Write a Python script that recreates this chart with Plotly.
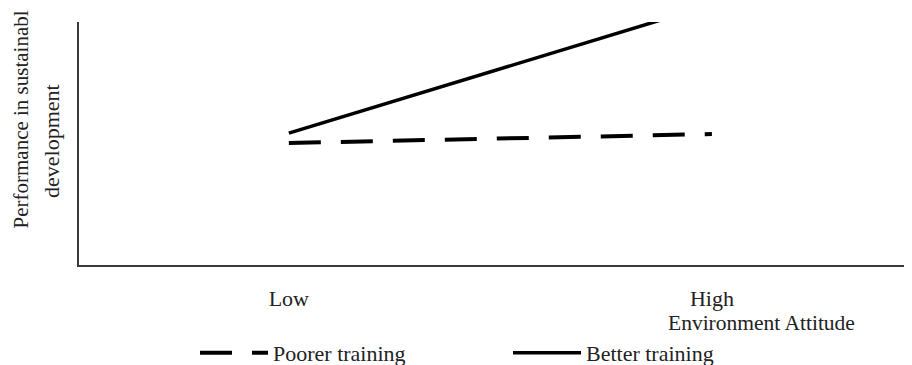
import plotly.graph_objects as go

categories = ["Low", "High"]
x_pos = [1, 2]
poorer_training = [5.02, 5.39]
better_training = [5.43, 10.72]
series_names = ["Poorer training", "Better training"]
y_title_lines = ["Performance in sustainabl", "development"]
x_title = "Environment Attitude"

FONT = "Liberation Serif"
FS = 22

fig = go.Figure()
fig.add_trace(go.Scatter(
    x=x_pos, y=poorer_training, mode="lines", name=series_names[0],
    line=dict(color="black", width=4, dash="32px,20px"),
))
fig.add_trace(go.Scatter(
    x=x_pos, y=better_training, mode="lines", name=series_names[1],
    line=dict(color="black", width=3.5),
))

fig.update_layout(
    width=904, height=357,
    margin=dict(l=71, r=0, t=14, b=100, autoexpand=False),
    paper_bgcolor="white", plot_bgcolor="white",
    font=dict(family=FONT, size=FS, color="#222"),
    showlegend=True,
    legend=dict(
        orientation="h", x=(195 - 79) / 833, xanchor="left",
        y=(265 - 353) / 243, yanchor="middle",
        itemwidth=68, entrywidth=230, entrywidthmode="pixels",
        font=dict(family=FONT, size=FS, color="#222"),
        bgcolor="rgba(0,0,0,0)", traceorder="normal",
    ),
    hovermode=False,
)
fig.update_xaxes(
    range=[0.504, 2.473], tickvals=x_pos, ticktext=categories,
    showgrid=False, zeroline=False, showline=True, linecolor="#3a3a3a", linewidth=2,
    ticks="", ticklabelstandoff=13,
    tickfont=dict(family=FONT, size=FS, color="#222"),
)
fig.update_yaxes(
    range=[0, 10], showticklabels=False, ticks="",
    showgrid=False, zeroline=False, showline=True, linecolor="#3a3a3a", linewidth=2,
)

fig.add_annotation(
    text=y_title_lines[0], xref="paper", yref="paper", x=0, y=(265 - 120) / 243,
    xshift=-58.5, textangle=-90, showarrow=False, xanchor="center", yanchor="middle",
    font=dict(family=FONT, size=21, color="#222"),
)
fig.add_annotation(
    text=y_title_lines[1], xref="paper", yref="paper", x=0, y=(265 - 141) / 243,
    xshift=-28, textangle=-90, showarrow=False, xanchor="center", yanchor="middle",
    font=dict(family=FONT, size=FS, color="#222"),
)
fig.add_annotation(
    text=x_title, xref="paper", yref="paper", x=(761 - 79) / 833, y=(265 - 323) / 243,
    showarrow=False, xanchor="center", yanchor="middle",
    font=dict(family=FONT, size=21.5, color="#222"),
)

fig.write_html("out.html")
